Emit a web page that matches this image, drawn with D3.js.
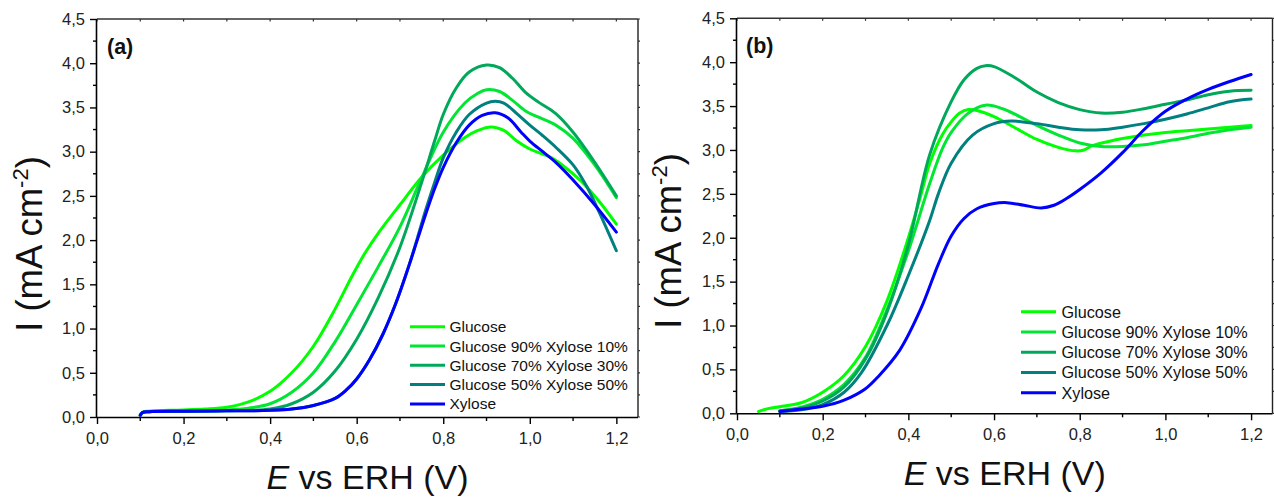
<!DOCTYPE html>
<html>
<head>
<meta charset="utf-8">
<script src="https://cdn.jsdelivr.net/npm/d3@7"></script>
<style>
  html, body { margin: 0; padding: 0; background: #fff; }
  svg { display: block; font-family: Arial, "Liberation Sans", sans-serif; }
</style>
</head>
<body>
<svg id="chart" width="1274" height="497"></svg>
<script>
// ---------------- DATA ----------------
const seriesNames = ["Glucose", "Glucose 90% Xylose 10%", "Glucose 70% Xylose 30%", "Glucose 50% Xylose 50%", "Xylose"];
const seriesColors = ["#00ff00", "#00e632", "#00a85a", "#00807f", "#0000ff"];

const xTickValues = [0, 0.2, 0.4, 0.6, 0.8, 1.0, 1.2];
const yTickValues = [0, 0.5, 1.0, 1.5, 2.0, 2.5, 3.0, 3.5, 4.0, 4.5];
const panelLabels = ["(a)", "(b)"];

// Panel (a): [E (V), I (mA cm-2)]
const a_glucose = [[0.1,0.02],[0.105,0.05],[0.115,0.065],[0.13,0.07],[0.2,0.08],[0.25,0.09],[0.3,0.11],[0.35,0.17],[0.4,0.29],[0.45,0.5],[0.5,0.8],[0.55,1.22],[0.59,1.6],[0.62,1.86],[0.65,2.08],[0.7,2.4],[0.75,2.71],[0.8,2.96],[0.85,3.16],[0.88,3.24],[0.91,3.28],[0.94,3.24],[0.97,3.12],[1.0,3.03],[1.05,2.93],[1.08,2.83],[1.12,2.66],[1.16,2.44],[1.2,2.18]];
const a_g90 = [[0.1,0.02],[0.105,0.05],[0.12,0.06],[0.2,0.07],[0.3,0.08],[0.35,0.1],[0.4,0.15],[0.45,0.28],[0.5,0.5],[0.55,0.85],[0.6,1.27],[0.65,1.7],[0.7,2.15],[0.75,2.7],[0.8,3.22],[0.85,3.55],[0.88,3.66],[0.9,3.7],[0.93,3.68],[0.96,3.58],[0.99,3.46],[1.02,3.39],[1.06,3.3],[1.1,3.15],[1.15,2.85],[1.2,2.48]];
const a_g70 = [[0.1,0.02],[0.105,0.05],[0.12,0.06],[0.2,0.065],[0.3,0.07],[0.4,0.09],[0.45,0.15],[0.5,0.28],[0.55,0.52],[0.6,0.88],[0.65,1.35],[0.7,1.92],[0.75,2.65],[0.78,3.12],[0.8,3.42],[0.83,3.72],[0.86,3.9],[0.9,3.98],[0.93,3.95],[0.96,3.83],[0.99,3.67],[1.02,3.56],[1.06,3.43],[1.1,3.22],[1.15,2.88],[1.2,2.5]];
const a_g50 = [[0.1,0.02],[0.105,0.05],[0.12,0.06],[0.2,0.065],[0.3,0.07],[0.4,0.075],[0.45,0.09],[0.5,0.13],[0.55,0.21],[0.575,0.3],[0.6,0.43],[0.63,0.65],[0.66,0.93],[0.69,1.28],[0.72,1.7],[0.74,2.02],[0.76,2.35],[0.78,2.65],[0.8,2.93],[0.83,3.22],[0.86,3.42],[0.9,3.55],[0.92,3.57],[0.94,3.55],[0.97,3.43],[1.0,3.3],[1.03,3.18],[1.06,3.05],[1.1,2.85],[1.13,2.62],[1.16,2.32],[1.2,1.88]];
const a_xylose = [[0.1,0.02],[0.105,0.05],[0.12,0.06],[0.2,0.065],[0.3,0.07],[0.4,0.075],[0.45,0.09],[0.5,0.13],[0.55,0.21],[0.575,0.3],[0.6,0.43],[0.63,0.65],[0.66,0.93],[0.69,1.28],[0.72,1.7],[0.74,2.0],[0.76,2.3],[0.78,2.58],[0.8,2.82],[0.83,3.1],[0.86,3.3],[0.89,3.41],[0.92,3.44],[0.95,3.38],[0.98,3.22],[1.0,3.12],[1.03,3.0],[1.06,2.88],[1.1,2.68],[1.15,2.4],[1.2,2.09]];

// Panel (b)
const b_glucose = [[0.05,0.02],[0.07,0.05],[0.1,0.075],[0.15,0.12],[0.2,0.24],[0.25,0.43],[0.3,0.76],[0.35,1.28],[0.4,2.0],[0.43,2.5],[0.45,2.85],[0.48,3.18],[0.5,3.32],[0.52,3.42],[0.54,3.46],[0.56,3.45],[0.6,3.38],[0.65,3.25],[0.7,3.12],[0.75,3.03],[0.79,2.99],[0.81,3.0],[0.83,3.05],[0.87,3.1],[0.9,3.13],[0.95,3.17],[1.0,3.2],[1.05,3.22],[1.1,3.24],[1.15,3.26],[1.2,3.28]];
const b_g90 = [[0.1,0.03],[0.15,0.07],[0.2,0.16],[0.25,0.33],[0.3,0.64],[0.35,1.18],[0.4,1.85],[0.45,2.62],[0.48,3.02],[0.5,3.2],[0.54,3.42],[0.58,3.51],[0.62,3.47],[0.66,3.38],[0.7,3.28],[0.75,3.17],[0.8,3.08],[0.85,3.04],[0.9,3.04],[0.95,3.06],[1.0,3.1],[1.05,3.14],[1.1,3.19],[1.15,3.23],[1.2,3.26]];
const b_g70 = [[0.1,0.03],[0.15,0.06],[0.2,0.14],[0.25,0.3],[0.3,0.62],[0.35,1.15],[0.4,1.92],[0.45,2.95],[0.5,3.55],[0.53,3.8],[0.56,3.93],[0.58,3.96],[0.6,3.95],[0.65,3.82],[0.7,3.66],[0.75,3.54],[0.8,3.46],[0.85,3.42],[0.9,3.43],[0.95,3.47],[1.0,3.52],[1.05,3.57],[1.1,3.63],[1.15,3.67],[1.2,3.68]];
const b_g50 = [[0.1,0.02],[0.15,0.04],[0.2,0.1],[0.25,0.24],[0.29,0.46],[0.35,1.0],[0.4,1.57],[0.45,2.2],[0.47,2.5],[0.5,2.85],[0.55,3.17],[0.6,3.3],[0.64,3.33],[0.7,3.3],[0.75,3.26],[0.8,3.23],[0.85,3.23],[0.9,3.26],[0.95,3.3],[1.0,3.35],[1.05,3.41],[1.1,3.48],[1.15,3.55],[1.2,3.58]];
const b_xylose = [[0.1,0.02],[0.15,0.05],[0.2,0.08],[0.25,0.15],[0.3,0.28],[0.33,0.42],[0.38,0.72],[0.43,1.2],[0.47,1.7],[0.5,2.02],[0.53,2.22],[0.56,2.33],[0.6,2.39],[0.63,2.4],[0.67,2.37],[0.71,2.34],[0.74,2.37],[0.77,2.45],[0.8,2.55],[0.85,2.74],[0.9,2.97],[0.95,3.23],[1.0,3.44],[1.05,3.58],[1.1,3.69],[1.15,3.78],[1.2,3.86]];

const panelA = [a_glucose, a_g90, a_g70, a_g50, a_xylose];
const panelB = [b_glucose, b_g90, b_g70, b_g50, b_xylose];

// ---------------- LAYOUT ----------------
const panels = [
  { series: panelA, label: panelLabels[0], left: 97, right: 638, top: 19, bottom: 417,
    labelX: 107, labelY: 54, yTitleX: 42, yTitleY: 244,
    legend: { x1: 410, x2: 445, tx: 449.5, y0: 326.7, dy: 19.3, fs: 15.5 } },
  { series: panelB, label: panelLabels[1], left: 737, right: 1272.5, top: 18.3, bottom: 413.3,
    labelX: 746, labelY: 53, yTitleX: 681, yTitleY: 241,
    legend: { x1: 1021, x2: 1056, tx: 1061.5, y0: 311.7, dy: 20.25, fs: 16.2 } }
];

const svg = d3.select("#chart");
const fmt = v => d3.format(".1f")(v).replace(".", ",");

panels.forEach(p => {
  const x = d3.scaleLinear().domain([0, 1.25]).range([p.left, p.right]);
  const y = d3.scaleLinear().domain([0, 4.5]).range([p.bottom, p.top]);
  const g = svg.append("g");

  // frame top & right
  g.append("line").attr("x1", p.left).attr("x2", p.right).attr("y1", p.top).attr("y2", p.top)
    .attr("stroke", "#333").attr("stroke-width", 1.4);
  g.append("line").attr("x1", p.right).attr("x2", p.right).attr("y1", p.top).attr("y2", p.bottom)
    .attr("stroke", "#222").attr("stroke-width", 1.4);

  // mirror ticks on top and right
  const xMinor = d3.range(0, 1.21, 0.1);
  const yMinor = d3.range(0, 4.51, 0.25);
  g.append("g").selectAll("line").data(xMinor).join("line")
    .attr("x1", d => x(d)).attr("x2", d => x(d)).attr("y1", p.top).attr("y2", p.top + 2.5)
    .attr("stroke", "#333").attr("stroke-width", 1.2);
  g.append("g").selectAll("line").data(yMinor).join("line")
    .attr("x1", p.right).attr("x2", p.right + 2).attr("y1", d => y(d)).attr("y2", d => y(d))
    .attr("stroke", "#333").attr("stroke-width", 1.2);

  // bottom axis
  const xAxis = d3.axisBottom(x).tickValues(xTickValues).tickFormat(fmt).tickSize(7).tickSizeOuter(0);
  const gx = g.append("g").attr("transform", `translate(0,${p.bottom})`).call(xAxis);
  gx.select(".domain").attr("d", `M${p.left},0.5H${p.right}`).attr("stroke", "#000").attr("stroke-width", 1.6);
  gx.selectAll(".tick line").attr("stroke", "#000").attr("stroke-width", 1.4);
  gx.selectAll(".tick text").attr("font-size", 16.5).attr("fill", "#222")
    .attr("font-family", "Arial, 'Liberation Sans', sans-serif").attr("y", 15).attr("dy", "0.71em");
  g.append("g").selectAll("line").data(d3.range(0.1, 1.21, 0.2)).join("line")
    .attr("x1", d => x(d)).attr("x2", d => x(d)).attr("y1", p.bottom).attr("y2", p.bottom + 4)
    .attr("stroke", "#000").attr("stroke-width", 1.4);

  // left axis
  const yAxis = d3.axisLeft(y).tickValues(yTickValues).tickFormat(fmt).tickSize(7).tickSizeOuter(0);
  const gy = g.append("g").attr("transform", `translate(${p.left},0)`).call(yAxis);
  gy.select(".domain").attr("d", `M-0.5,${p.bottom}V${p.top}`).attr("stroke", "#000").attr("stroke-width", 1.6);
  gy.selectAll(".tick line").attr("stroke", "#000").attr("stroke-width", 1.4);
  gy.selectAll(".tick text").attr("font-size", 16.5).attr("fill", "#222")
    .attr("font-family", "Arial, 'Liberation Sans', sans-serif").attr("x", -12);
  g.append("g").selectAll("line").data(d3.range(0.25, 4.5, 0.5)).join("line")
    .attr("x1", p.left - 4).attr("x2", p.left).attr("y1", d => y(d)).attr("y2", d => y(d))
    .attr("stroke", "#000").attr("stroke-width", 1.4);

  // curves
  const line = d3.line().x(d => x(d[0])).y(d => y(d[1])).curve(d3.curveCatmullRom.alpha(0.5));
  p.series.forEach((s, i) => {
    g.append("path").datum(s).attr("d", line).attr("fill", "none")
      .attr("stroke", seriesColors[i]).attr("stroke-width", 3)
      .attr("stroke-linejoin", "round").attr("stroke-linecap", "round");
  });

  // panel label
  g.append("text").attr("x", p.labelX).attr("y", p.labelY).text(p.label)
    .attr("font-size", 21.5).attr("font-weight", "bold").attr("fill", "#111");

  // legend
  const L = p.legend;
  seriesNames.forEach((name, i) => {
    const yy = L.y0 + i * L.dy;
    g.append("line").attr("x1", L.x1).attr("x2", L.x2).attr("y1", yy).attr("y2", yy)
      .attr("stroke", seriesColors[i]).attr("stroke-width", 3);
    g.append("text").attr("x", L.tx).attr("y", yy).attr("dy", "0.36em").text(name)
      .attr("font-size", L.fs).attr("fill", "#111");
  });

  // x title
  const xt = g.append("text").attr("x", (p.left + p.right) / 2).attr("y", p.bottom + 72)
    .attr("text-anchor", "middle").attr("font-size", 34).attr("fill", "#111");
  xt.append("tspan").attr("font-style", "italic").text("E");
  xt.append("tspan").text(" vs ERH (V)");

  // y title
  const yt = g.append("text").attr("transform", `translate(${p.yTitleX},${p.yTitleY}) rotate(-90)`)
    .attr("text-anchor", "middle").attr("font-size", 36.5).attr("fill", "#111");
  yt.append("tspan").text("I (mA cm");
  yt.append("tspan").attr("font-size", 22).attr("dy", -14).text("-2");
  yt.append("tspan").attr("dy", 14).text(")");
});
</script>
</body>
</html>
